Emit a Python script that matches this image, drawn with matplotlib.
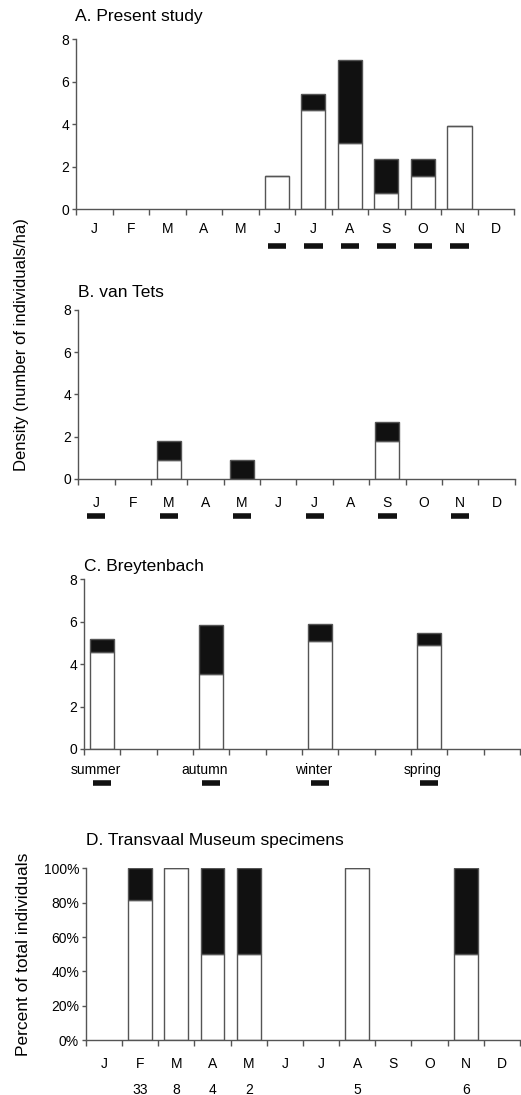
import numpy as np
import matplotlib
matplotlib.use("Agg")
import matplotlib.pyplot as plt
from matplotlib.ticker import FixedLocator, PercentFormatter
import matplotlib.transforms as mtransforms

plt.rcParams['font.family'] = ['Liberation Sans', 'DejaVu Sans']

months = ["J", "F", "M", "A", "M", "J", "J", "A", "S", "O", "N", "D"]

# A. Present study (density, white = lower part, total = full bar height)
a_white = [0, 0, 0, 0, 0, 1.55, 4.65, 3.1, 0.75, 1.55, 3.9, 0]
a_total = [0, 0, 0, 0, 0, 1.55, 5.45, 7.05, 2.35, 2.35, 3.9, 0]
a_marks = [5, 6, 7, 8, 9, 10]

# B. van Tets
b_white = [0, 0, 0.9, 0, 0, 0, 0, 0, 1.8, 0, 0, 0]
b_total = [0, 0, 1.8, 0, 0.9, 0, 0, 0, 2.7, 0, 0, 0]
b_marks = [0, 2, 4, 6, 8, 10]

# C. Breytenbach (seasons)
seasons = ["summer", "autumn", "winter", "spring"]
c_pos = [0, 3, 6, 9]
c_white = [4.55, 3.55, 5.1, 4.9]
c_total = [5.2, 5.85, 5.9, 5.45]

# D. Transvaal Museum specimens (percent)
d_white = [0, 81.5, 100, 50, 50, 0, 0, 100, 0, 0, 50, 0]
d_total = [0, 100, 100, 100, 100, 0, 0, 100, 0, 0, 100, 0]
d_counts = ["", "33", "8", "4", "2", "", "", "5", "", "", "6", ""]

GRAY = "#555555"
BLACK = "#111111"


def style_axis(ax, ymax, yticks):
    for s in ["top", "right"]:
        ax.spines[s].set_visible(False)
    for s in ["left", "bottom"]:
        ax.spines[s].set_color(GRAY)
        ax.spines[s].set_linewidth(1)
    ax.set_xlim(-0.5, 11.5)
    ax.set_ylim(0, ymax)
    ax.set_yticks(yticks)
    ax.xaxis.set_major_locator(FixedLocator(np.arange(-0.5, 12, 1)))
    ax.xaxis.set_major_formatter(plt.NullFormatter())
    ax.tick_params(axis="x", which="major", length=4, color=GRAY, width=1)
    ax.tick_params(axis="x", which="minor", length=0, labelsize=10, pad=12)
    ax.tick_params(axis="y", length=3, color=GRAY, width=1, labelsize=10, pad=2)


def stacked(ax, x, white, total, width=0.66):
    x = np.array(x)
    white = np.array(white)
    total = np.array(total)
    keep = total > 0
    x, white, total = x[keep], white[keep], total[keep]
    top = total - white
    ax.bar(x, white, width=width, color="white", edgecolor=GRAY, linewidth=1, zorder=2)
    ax.bar(x, top, bottom=white, width=width, color=BLACK, edgecolor=GRAY,
           linewidth=1, zorder=2)


def marks(ax, xs, y):
    trans = mtransforms.blended_transform_factory(ax.transData, ax.transAxes)
    for x in xs:
        ax.plot([x - 0.25, x + 0.25], [y, y], color=BLACK, lw=4,
                solid_capstyle="butt", transform=trans, clip_on=False)


fig = plt.figure(figsize=(5.21, 10.95), dpi=100)
x = np.arange(12)

# Panel A
axA = fig.add_axes([0.146, 0.809, 0.841, 0.155])
style_axis(axA, 8, [0, 2, 4, 6, 8])
stacked(axA, x, a_white, a_total)
axA.set_xticks(x, months, minor=True)
axA.tick_params(axis="x", which="minor", pad=9)
marks(axA, a_marks, -0.22)
axA.text(-0.002, 1.09, "A. Present study", transform=axA.transAxes, fontsize=12.5,
         ha="left", va="bottom")

# Panel B
axB = fig.add_axes([0.150, 0.5626, 0.838, 0.1544])
style_axis(axB, 8, [0, 2, 4, 6, 8])
stacked(axB, x, b_white, b_total)
axB.set_xticks(x, months, minor=True)
marks(axB, b_marks, -0.22)
axB.text(0.0, 1.06, "B. van Tets", transform=axB.transAxes, fontsize=12.5,
         ha="left", va="bottom")

# Panel C
axC = fig.add_axes([0.161, 0.316, 0.837, 0.155])
style_axis(axC, 8, [0, 2, 4, 6, 8])
stacked(axC, c_pos, c_white, c_total)
axC.set_xticks(np.array(c_pos) - 0.18, seasons, minor=True)
axC.tick_params(axis="x", which="minor", pad=10)
marks(axC, c_pos, -0.2)
axC.text(0.0, 1.03, "C. Breytenbach", transform=axC.transAxes, fontsize=12.5,
         ha="left", va="bottom")

fig.text(0.042, 0.685, "Density (number of individuals/ha)", rotation=90,
         fontsize=12, ha="center", va="center")

# Panel D
axD = fig.add_axes([0.165, 0.050, 0.833, 0.157])
style_axis(axD, 100, [0, 20, 40, 60, 80, 100])
axD.yaxis.set_major_formatter(PercentFormatter(decimals=0))
stacked(axD, x, d_white, d_total)
axD.set_xticks(x, months, minor=True)
axD.tick_params(axis="x", which="minor", pad=12)
transD = mtransforms.blended_transform_factory(axD.transData, axD.transAxes)
for xi, c in zip(x, d_counts):
    if c:
        axD.text(xi, -0.29, c, transform=transD, fontsize=10,
                 ha="center", va="center")
axD.text(0.0, 1.12, "D. Transvaal Museum specimens", transform=axD.transAxes,
         fontsize=12.5, ha="left", va="bottom")
axD.set_ylabel("Percent of total individuals", fontsize=12.5, labelpad=9)

fig.savefig("out.png", dpi=100)
